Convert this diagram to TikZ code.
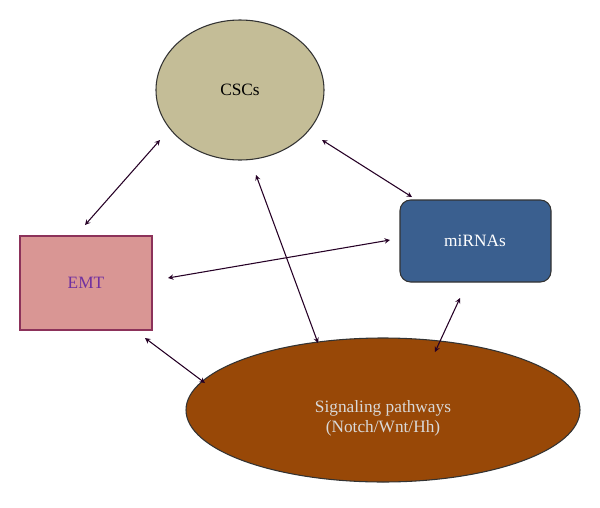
\documentclass[tikz,border=0pt]{standalone}
\usepackage{fontspec}
\setmainfont{Liberation Serif}
\begin{document}
\begin{tikzpicture}[x=0.0264cm,y=-0.0264cm,
  arr/.style={<->,>=stealth,draw=black!70!violet,line width=0.8pt},
  lbl/.style={font=\fontsize{13}{15}\selectfont}]
\useasboundingbox (0,0) rectangle (600,507);
\fill[fill=white] (0,0) rectangle (600,507);
\draw[fill={rgb,255:red,196;green,189;blue,151},draw=black!80,line width=0.8pt] (240,90) ellipse [x radius=84,y radius=70];
\node[lbl] (csc) at (240,90) {CSCs};
\draw[fill={rgb,255:red,58;green,95;blue,143},draw=black!80,line width=0.8pt,rounded corners=8pt] (400,200) rectangle (551,282);
\node[lbl,text=white] (mir) at (475,241) {miRNAs};
\draw[fill={rgb,255:red,217;green,150;blue,148},draw={rgb,255:red,140;green,50;blue,90},line width=0.8pt] (20,236) rectangle (152,330);
\node[lbl,text={rgb,255:red,112;green,48;blue,160}] (emt) at (86,283) {EMT};
\draw[fill={rgb,255:red,152;green,72;blue,7},draw=black!80,line width=0.8pt] (383,410) ellipse [x radius=197,y radius=72];
\node[lbl,text=black!15,align=center] (sig) at (383,418) {Signaling pathways\\(Notch/Wnt/Hh)};
\coordinate (a1) at (160,140); \coordinate (b1) at (85,225);
\coordinate (a2) at (322,140); \coordinate (b2) at (412,197);
\coordinate (a3) at (256,175); \coordinate (b3) at (318,343);
\coordinate (a4) at (168,278); \coordinate (b4) at (390,240);
\coordinate (a5) at (145,338); \coordinate (b5) at (205,383);
\coordinate (a6) at (460,298); \coordinate (b6) at (435,352);
\draw[arr] (a1) -- (b1);
\draw[arr] (a2) -- (b2);
\draw[arr] (a3) -- (b3);
\draw[arr] (a4) -- (b4);
\draw[arr] (a5) -- (b5);
\draw[arr] (a6) -- (b6);
\end{tikzpicture}
\end{document}
